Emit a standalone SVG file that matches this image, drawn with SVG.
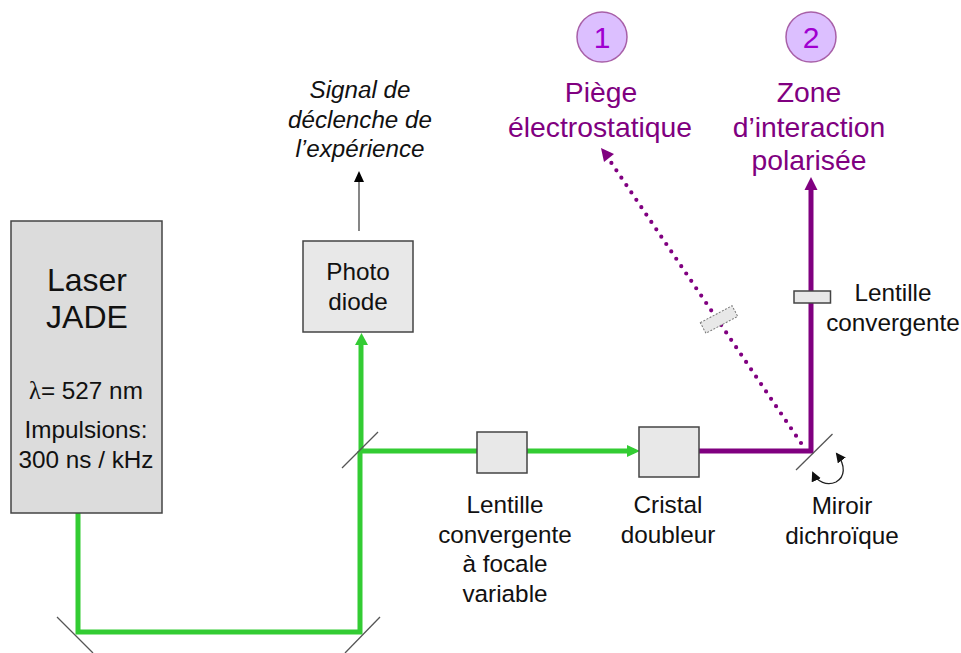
<svg xmlns="http://www.w3.org/2000/svg" width="961" height="653" viewBox="0 0 961 653">
<style>
text{font-family:"Liberation Sans",Arial,sans-serif;text-anchor:middle;fill:#111}
.box{fill:#e8e8e8;stroke:#444;stroke-width:1.5}
.t23{font-size:24.300px}
.t30{font-size:32px}
.t25{font-size:28.300px;fill:#800080}
.it{font-size:24.200px;font-style:italic}
.g{fill:none;stroke:#33cc33;stroke-width:5}
.p{fill:none;stroke:#800080;stroke-width:5}
.mirror{stroke:#555;stroke-width:1.3;fill:none}
.num{fill:#dcbfff;stroke:#a860a8;stroke-width:1.5}
</style>
<defs>
<marker id="ak2" markerUnits="userSpaceOnUse" markerWidth="12" markerHeight="12" refX="8" refY="5" orient="auto-start-reverse"><path d="M0 0L10 5L0 10z" fill="#111"/></marker>
</defs>
<g id="connectors">
<path class="g" d="M78 513V632H360V451"/>
<path class="g" d="M361 453V340"/>
<path class="g" d="M360 451H634"/>
<path d="M627 445L640 451L627 457z" fill="#33cc33"/>
<path d="M361.500 333L355 345H368z" fill="#33cc33"/>
<path class="p" d="M699 451H811V188"/>
<path d="M811 177L804.500 190H817.500z" fill="#800080"/>
<path d="M801 443L606 155" fill="none" stroke="#800080" stroke-width="4.200" stroke-linecap="round" stroke-dasharray="0 8.900"/>
<path d="M601 148L614 154L604 162z" fill="#800080"/>
<path d="M359 231V178" fill="none" stroke="#444" stroke-width="1.300"/>
<path d="M359 171L354 182H364z" fill="#000"/>
<path d="M837 454C846 466 845 477 836 482C827 486 817 482 813 473" fill="none" stroke="#222" stroke-width="1.300" marker-start="url(#ak2)" marker-end="url(#ak2)"/>
</g>
<g id="laser"><rect class="box" x="11" y="221" width="151" height="292" style="fill:#dcdcdc"/>
<text class="t30" x="87" y="291">Laser</text><text class="t30" x="87" y="328">JADE</text>
<text class="t23" x="86" y="399"><tspan font-family="Liberation Serif">λ</tspan>= 527 nm</text>
<text class="t23" x="86" y="438">Impulsions:</text><text class="t23" x="86" y="468">300 ns / kHz</text></g>
<g id="mirror-1"><line class="mirror" x1="57" y1="617" x2="93" y2="653"/></g>
<g id="mirror-2"><line class="mirror" x1="380" y1="617" x2="345" y2="653"/></g>
<g id="mirror-3"><line class="mirror" x1="342" y1="468" x2="378" y2="432"/></g>
<g id="mirror-4"><line class="mirror" x1="796" y1="470" x2="832.500" y2="434"/></g>
<g id="photodiode"><rect class="box" x="303" y="241" width="110" height="91"/>
<text class="t23" x="358" y="280">Photo</text><text class="t23" x="358" y="310">diode</text></g>
<g id="signal"><text class="it" x="360" y="98">Signal de</text><text class="it" x="360" y="128">déclenche de</text><text class="it" x="360" y="157">l’expérience</text></g>
<g id="lens-var"><rect class="box" x="477" y="432" width="50" height="41"/>
<text class="t23" x="505" y="513">Lentille</text><text class="t23" x="505" y="543">convergente</text><text class="t23" x="505" y="572">à focale</text><text class="t23" x="505" y="602">variable</text></g>
<g id="cristal"><rect class="box" x="639" y="427" width="60" height="50"/>
<text class="t23" x="668" y="513">Cristal</text><text class="t23" x="668" y="543">doubleur</text></g>
<g id="miroir-label"><text class="t23" x="842" y="514">Miroir</text><text class="t23" x="842" y="544">dichroïque</text></g>
<g id="lens-2"><rect class="box" x="794" y="291" width="36.500" height="12"/>
<text class="t23" x="893" y="301">Lentille</text><text class="t23" x="893" y="331">convergente</text></g>
<g id="lens-1"><rect x="701" y="313.500" width="36" height="12" transform="rotate(-28 719 319.500)" fill="#e8e8e8" stroke="#777" stroke-width="1" stroke-dasharray="2 1.500"/></g>
<g id="target-1"><circle class="num" cx="602" cy="37" r="25"/><text x="602" y="48" font-size="30" style="fill:#a000d0">1</text>
<text class="t25" x="601" y="102">Piège</text><text class="t25" x="600" y="137">électrostatique</text></g>
<g id="target-2"><circle class="num" cx="811" cy="37" r="25"/><text x="811" y="48" font-size="30" style="fill:#a000d0">2</text>
<text class="t25" x="809" y="102">Zone</text><text class="t25" x="809" y="137">d’interaction</text><text class="t25" x="809" y="170">polarisée</text></g>
</svg>
